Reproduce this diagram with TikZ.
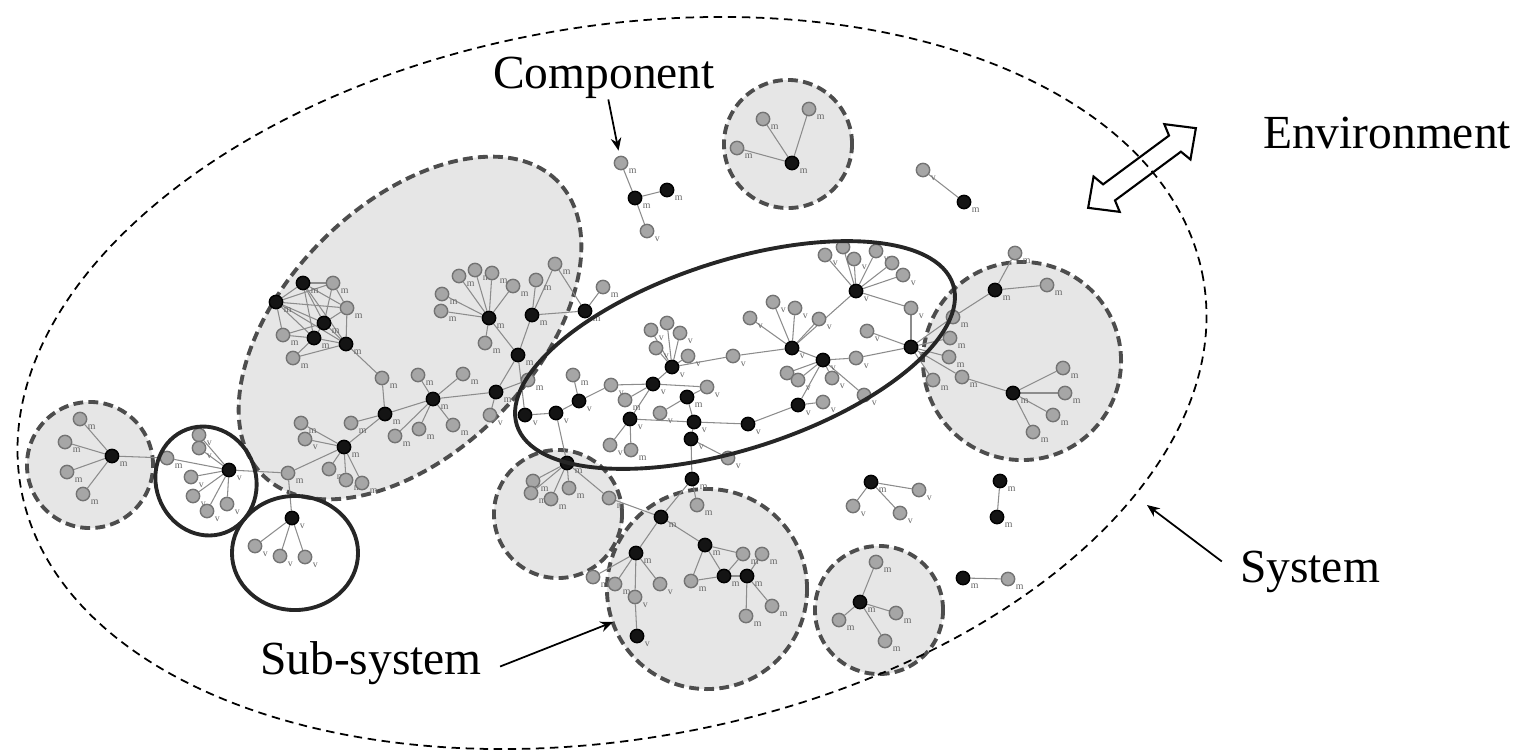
\documentclass[tikz,border=0pt]{standalone}
\usepackage{fontspec}
\setmainfont{Liberation Serif}
\usetikzlibrary{arrows.meta}

\pgfdeclarelayer{back}
\pgfdeclarelayer{mid}
\pgfsetlayers{back,mid,main}

\definecolor{shade}{HTML}{E6E6E6}
\definecolor{rim}{HTML}{4D4D4D}
\definecolor{nodegray}{HTML}{A6A6A6}
\definecolor{linkgray}{HTML}{8C8C8C}

\tikzset{
    lbl/.style={font=\fontsize{2.8}{3}\selectfont, text=black!60, inner sep=0.3pt},
    gn/.style={circle, draw=black!55, fill=nodegray, line width=0.4pt,
        minimum size=3.8pt, inner sep=0pt, label={[lbl]-35:#1}},
    gn/.default=m,
    bn/.style={circle, draw=black, fill=black!92, line width=0.4pt,
        minimum size=3.8pt, inner sep=0pt, label={[lbl]-35:#1}},
    bn/.default=m,
    link/.style={draw=linkgray, line width=0.3pt},
    subsys/.style={fill=shade, draw=rim, line width=1.1pt, dash pattern=on 2.8pt off 1.5pt},
    bound/.style={draw=black!85, line width=1.1pt},
    note/.style={font=\fontsize{13.5}{15}\selectfont, inner sep=0pt},
    pointer/.style={-{Stealth[length=3.6pt,width=3pt]}, line width=0.5pt},
}

\begin{document}
\begin{tikzpicture}[x=0.01cm, y=-0.01cm]
    \useasboundingbox (0,0) rectangle (1537,751);

    % black components
    \foreach \n/\x/\y/\l in {
        q1/303/283/m, q2/276/302/m, q3/324/323/m, q4/314/338/m, q5/346/344/m,
        e1/489/318/m, e2/532/315/m, e3/585/311/m, e4/518/355/m, e5/496/392/m,
        e6/433/399/m, e7/385/414/m, e8/344/447/m,
        s1/525/415/v, s2/556/413/v, s3/579/401/v, s6/653/384/v, s7/672/367/v,
        s9/687/397/m, s13/630/419/v, s14/694/422/v, s15/691/439/v, s16/748/424/v,
        s18/792/348/v, s19/823/360/v, s20/798/405/v, s21/856/291/v, s22/911/347/v,
        c1/567/463/m,
        d1/692/479/m, d3/661/517/m, d4/705/545/m, d5/636/553/m, d8/637/636/v,
        d10/724/576/m, d11/747/576/m,
        t1/792/163/m, k2/635/198/m, k3/667/190/m, p2/964/202/m,
        r1/871/482/m, w1/1000/481/m, w2/997/517/m, u1/860/602/m, z1/963/578/m,
        h1/995/290/m, h2/1013/393/m,
        l1/112/456/m, a1/229/470/v, o1/292/518/v}
        \node [bn=\l] (\n) at (\x,\y) {};

    % grey components
    \foreach \n/\x/\y/\l in {
        q6/333/283/m, q7/347/308/m, q8/283/335/m, q9/293/358/m,
        e1a/459/276/m, e1b/475/270/m, e1c/492/273/m, e1d/513/286/m,
        e1e/442/294/m, e1f/441/311/m, e1g/485/343/m,
        e2a/536/280/m, e2b/555/264/m, e3a/603/287/m, e5a/490/415/v, e5b/528/380/m,
        e6a/418/375/m, e6b/463/374/m, e6c/453/425/m, e6d/419/429/m, e6e/395/436/m,
        e7a/382/378/m, e7b/351/423/m,
        e8a/301/423/m, e8b/305/439/v, e8c/329/469/m, e8d/346/480/m, e8e/362/483/m,
        e8f/288/473/m,
        s4/573/375/m, s5/611/385/v, s7a/651/330/v, s7b/667/323/v, s7c/680/333/v,
        s7d/656/348/v, s7e/688/356/v, s8/733/356/v, s10/707/387/v, s11/625/400/m,
        s12/660/413/v, s13a/610/445/v, s13b/631/450/m, s17/728/458/v,
        s18a/750/318/v, s18b/773/302/v, s18c/795/308/v, s18d/819/319/v,
        s19a/787/373/v, s19b/798/380/v, s19c/832/378/v, s19d/856/358/v,
        s19e/823/402/v, s19f/864/395/v, s19g/867/331/v,
        s21a/825/255/v, s21b/843/247/v, s21c/854/259/v, s21d/876/251/v,
        s21e/892/263/v, s21f/903/275/v, s21g/911/308/v,
        c2/533/481/m, c3/531/493/m, c4/551/499/m, c5/569/488/m, c6/609/498/m,
        d2/697/505/m, d6/660/584/v, d7/635/597/v, d9/691/581/m, d12/743/554/m,
        d13/762/554/m, d14/772/606/m, d15/746/616/m, d16/593/577/m, d17/615/584/m,
        t2/763/119/m, t3/809/109/m, t4/737/148/m,
        k1/621/163/m, k4/647/231/v, p1/923/170/v,
        r2/853/506/v, r3/900/513/v, r4/919/490/v,
        u2/876/562/m, u3/839/620/m, u4/896/613/m, u5/885/641/m, z2/1008/579/m,
        h3/1015/253/m, h4/1047/285/m, h5/953/317/m, h6/950/338/m, h7/949/357/m,
        h8/962/377/m, h9/933/380/m, h10/1063/368/m, h11/1065/393/m,
        h12/1053/415/m, h13/1033/432/m,
        l2/80/419/m, l3/65/442/m, l4/67/472/m, l5/83/494/m,
        a2/199/435/v, a3/199/448/v, a4/167/458/m, a5/191/477/v, a6/193/496/v,
        a7/207/511/v, a8/227/504/v,
        o2/255/546/v, o3/280/556/v, o4/305/557/v}
        \node [gn=\l] (\n) at (\x,\y) {};

    \begin{pgfonlayer}{mid}
        \foreach \a/\b in {
            q1/q2, q1/q3, q1/q4, q1/q6, q1/q7, q1/q5, q2/q3, q2/q4, q2/q5, q2/q8,
            q2/q7, q2/q6, q3/q4, q3/q5, q3/q6, q3/q7, q3/q8, q4/q5, q4/q8, q4/q9,
            q5/q7, q5/q9, q6/q7,
            q5/e7a, e7a/e7, e7/e6, e7/e7b, e6/e6a, e6/e6b, e6/e6c, e6/e6d, e6/e6e,
            e6/e5, e5/e5a, e5/e5b, e5/e4, e4/e2, e4/e1,
            e1/e1a, e1/e1b, e1/e1c, e1/e1d, e1/e1e, e1/e1f, e1/e1g,
            e2/e2a, e2/e2b, e2/e3, e3/e3a, e3/e2b,
            e8/e7, e8/e8a, e8/e8b, e8/e8c, e8/e8d, e8/e8e, e8/e8f,
            e4/s1, s1/s2, s2/s3, s3/s4, s3/s5, s2/c1, s5/s6, s6/s7, s6/s11, s6/s10,
            s7/s7a, s7/s7b, s7/s7c, s7/s7d, s7/s7e, s7/s8, s8/s18, s6/s13,
            s13/s13a, s13/s13b, s13/s14, s9/s10, s9/s12, s9/s14, s14/s15, s14/s16,
            s15/s17, s15/d1, s16/s20, s20/s19e, s20/s19,
            s19/s19a, s19/s19b, s19/s19c, s19/s19d, s19/s19f,
            s18/s18a, s18/s18b, s18/s18c, s18/s18d, s18/s19, s18/s21,
            s21/s21a, s21/s21b, s21/s21c, s21/s21d, s21/s21e, s21/s21f, s21/s21g,
            s21g/s22, s22/s19d, s22/s19g, s22/h5, h5/h1, s22/h6, s22/h7, s22/h8,
            h8/h2, s22/h9,
            c1/c2, c1/c3, c1/c4, c1/c5, c1/c6, c6/d3,
            d1/d2, d1/d3, d3/d4, d3/d5, d5/d6, d5/d7, d7/d8, d5/d16, d5/d17,
            d4/d9, d4/d10, d4/d12, d9/d10, d10/d11, d11/d13, d11/d14, d11/d15,
            d10/d12,
            t1/t2, t1/t3, t1/t4, k1/k2, k2/k3, k2/k4, p1/p2,
            r1/r2, r1/r3, r1/r4, w1/w2, u1/u2, u1/u3, u1/u4, u1/u5, z1/z2,
            h1/h3, h1/h4, h2/h10, h2/h11, h2/h12, h2/h13,
            l1/l2, l1/l3, l1/l4, l1/l5, l1/a4,
            a1/a2, a1/a3, a1/a4, a1/a5, a1/a6, a1/a7, a1/a8, a1/e8f,
            o1/o2, o1/o3, o1/o4, o1/e8f}
            \draw [link] (\a) -- (\b);
    \end{pgfonlayer}

    \begin{pgfonlayer}{back}
        \draw [subsys, rotate around={45:(410,328)}]
            (410,328) ellipse [x radius=2.08cm, y radius=1.24cm]
            ;
        \foreach \x/\y/\r in {90/465/0.63cm, 788/144/0.64cm, 558/514/0.64cm,
                707/589/1.0cm, 879/610/0.64cm, 1022/361/0.99cm}
            \draw [subsys] (\x,\y) circle [radius=\r];
    \end{pgfonlayer}

    \draw [bound, rotate around={17.9:(735,355)}]
        (735,355) ellipse [x radius=2.29cm, y radius=0.94cm]
        ;
    \draw [bound, rotate around={20:(206,481)}]
        (206,481) ellipse [x radius=0.5cm, y radius=0.55cm]
        ;
    \draw [bound]
        (295,553) ellipse [x radius=0.63cm, y radius=0.57cm]
        ;

    \draw [line width=0.5pt, dash pattern=on 2.4pt off 1.6pt,
            rotate around={10:(612,383)}]
        (612,383) ellipse [x radius=6cm, y radius=3.56cm]
        ;

    \draw [line width=0.6pt, line join=miter, shift={(1142,168)}, rotate=36.5]
        (-67,0) -- (-44,-22) -- (-41,-10) -- (41,-10) -- (44,-22) -- (67,0)
        -- (44,22) -- (41,10) -- (-41,10) -- (-44,22) -- cycle
        ;

    \node [note] (component) at (604,78) {Component};
    \node [note] (environment) at (1387,133) {Environment};
    \node [note] (system) at (1310,572) {System};
    \node [note] (subsystem) at (371,663) {Sub-system};

    \coordinate (systemtip) at (1147,505);
    \coordinate (subsystemtip) at (613,622);

    \draw [pointer, shorten >=1.5pt]
        (component) -- (k1)
        ;
    \draw [pointer]
        ([shift={(-5pt,3pt)}]system.west) -- (systemtip)
        ;
    \draw [pointer]
        ([shift={(5pt,-1pt)}]subsystem.east) -- (subsystemtip)
        ;
\end{tikzpicture}
\end{document}
